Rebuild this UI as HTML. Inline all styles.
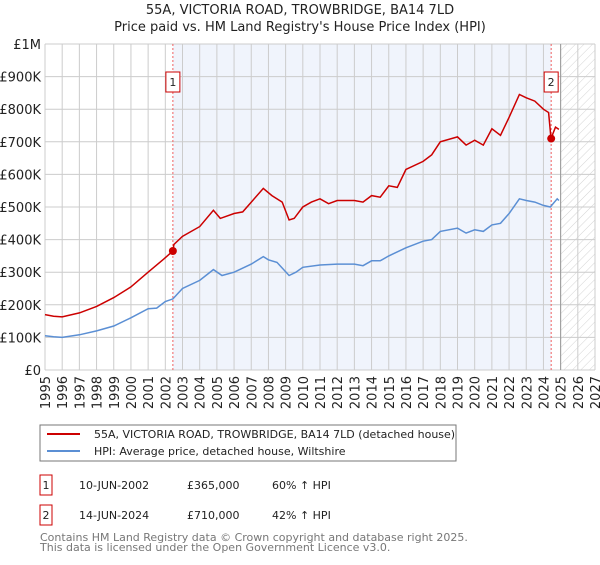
<!DOCTYPE html>
<html><head><meta charset="utf-8"><style>
body{margin:0;background:#fff;font-family:"Liberation Sans","DejaVu Sans",sans-serif;}
svg text{font-family:"DejaVu Sans","Liberation Sans",sans-serif;}
</style></head><body>
<svg id="chart" width="600" height="560" xmlns="http://www.w3.org/2000/svg">
<defs>
<pattern id="hatch" width="6" height="6" patternUnits="userSpaceOnUse" patternTransform="rotate(45)">
<line x1="0" y1="0" x2="0" y2="6" stroke="#d4d4d4" stroke-width="1"/></pattern>
</defs>
<text x="300" y="14" text-anchor="middle" font-size="13" fill="#222">55A, VICTORIA ROAD, TROWBRIDGE, BA14 7LD</text>
<text x="300" y="31" text-anchor="middle" font-size="13" fill="#222">Price paid vs. HM Land Registry's House Price Index (HPI)</text>
<g id="grid"></g>
<g id="marks"></g>
<g id="legend">
<rect x="40" y="425" width="416" height="36" fill="#fff" stroke="#777"/>
<line x1="47" y1="434" x2="80" y2="434" stroke="#cc0000" stroke-width="2"/>
<text x="94" y="438" font-size="11" fill="#222">55A, VICTORIA ROAD, TROWBRIDGE, BA14 7LD (detached house)</text>
<line x1="47" y1="451" x2="80" y2="451" stroke="#5b8fd4" stroke-width="2"/>
<text x="94" y="455" font-size="11" fill="#222">HPI: Average price, detached house, Wiltshire</text>
</g>
<g font-size="11" fill="#222">
<rect x="40" y="475" width="12" height="20" fill="#fff" stroke="#cc0000"/>
<text x="46" y="489" text-anchor="middle">1</text>
<text x="79" y="489">10-JUN-2002</text><text x="187" y="489">£365,000</text><text x="272" y="489">60% ↑ HPI</text>
<rect x="40" y="505" width="12" height="20" fill="#fff" stroke="#cc0000"/>
<text x="46" y="519" text-anchor="middle">2</text>
<text x="79" y="519">14-JUN-2024</text><text x="187" y="519">£710,000</text><text x="272" y="519">42% ↑ HPI</text>
</g>
<text x="40" y="541" font-size="11" fill="#777">Contains HM Land Registry data © Crown copyright and database right 2025.</text>
<text x="40" y="551" font-size="11" fill="#777">This data is licensed under the Open Government Licence v3.0.</text>
</svg>
<script>
const yTicks=[0,100,200,300,400,500,600,700,800,900,1000];
const yTickLabels=["£0","£100K","£200K","£300K","£400K","£500K","£600K","£700K","£800K","£900K","£1M"];
const years=[1995,1996,1997,1998,1999,2000,2001,2002,2003,2004,2005,2006,2007,2008,2009,2010,2011,2012,2013,2014,2015,2016,2017,2018,2019,2020,2021,2022,2023,2024,2025,2026,2027];
const hpiT=[1995,1995.5,1996,1997,1998,1999,2000,2001,2001.5,2002,2002.44,2003,2004,2004.8,2005.3,2006,2007,2007.7,2008,2008.5,2009.2,2009.6,2010,2011,2012,2013,2013.5,2014,2014.5,2015,2016,2017,2017.5,2018,2019,2019.5,2020,2020.5,2021,2021.5,2022,2022.6,2023,2023.5,2024,2024.4,2024.8,2024.9];
const hpiV=[105,102,100,108,120,135,160,188,190,210,218,250,275,308,290,300,325,348,338,330,290,300,315,322,325,325,320,335,335,350,375,395,400,425,435,420,430,425,445,450,480,525,520,515,505,500,525,520];
const ppT=[1995,1995.5,1996,1997,1998,1999,2000,2001,2001.9,2002.44,2002.5,2003,2004,2004.8,2005.2,2006,2006.5,2007,2007.7,2008.2,2008.8,2009.2,2009.5,2010,2010.5,2011,2011.5,2012,2013,2013.5,2014,2014.5,2015,2015.5,2016,2017,2017.5,2018,2019,2019.5,2020,2020.5,2021,2021.5,2022,2022.6,2023,2023.5,2024,2024.3,2024.44,2024.7,2024.9];
const ppV=[170,165,163,175,195,222,255,300,340,365,385,410,440,490,465,480,485,515,557,535,515,460,465,500,515,525,510,520,520,515,535,530,565,560,615,640,660,700,715,690,705,690,740,720,775,845,835,825,800,790,710,745,738];
const saleT=[2002.44,2024.45];
const saleV=[365,710];
const saleLabels=["1","2"];
const x0=45,x1=595,y0=370,y1=44;
const X=t=>x0+(t-1995)*(x1-x0)/32;
const Y=v=>y0-v*(y0-y1)/1000;
const NS="http://www.w3.org/2000/svg";
function mk(tag,attrs,parent){const e=document.createElementNS(NS,tag);for(const k in attrs)e.setAttribute(k,attrs[k]);parent.appendChild(e);return e;}
const g=document.getElementById('grid'),m=document.getElementById('marks');
let r=mk('rect',{x:X(saleT[0]),y:y1,width:X(saleT[1])-X(saleT[0]),height:y0-y1,fill:'#f0f4fc'},g);


r=mk('rect',{x:X(2025),y:y1,width:x1-X(2025),height:y0-y1,fill:'url(#hatch)'},g);


years.forEach(yr=>{
  mk('line',{x1:X(yr),x2:X(yr),y1:y1,y2:y0,stroke:'#ccc'},g);
  const t=mk('text',{transform:`translate(${X(yr)+5},${y0+6}) rotate(-90)`,'text-anchor':'end','font-size':'13',fill:'#222'},g);
  t.textContent=yr;
  
  
});
yTicks.forEach((v,i)=>{
  mk('line',{x1:x0,x2:x1,y1:Y(v),y2:Y(v),stroke:'#ccc'},g);
  const t=mk('text',{x:x0-4,y:Y(v)+5,'text-anchor':'end','font-size':'13',fill:'#222'},g);
  t.textContent=yTickLabels[i];
  
  
});
mk('line',{x1:X(2025),x2:X(2025),y1:y1,y2:y0,stroke:'#999'},g);
saleT.forEach((t,i)=>{
  const l=mk('line',{x1:X(t),x2:X(t),y1:y1,y2:y0,stroke:'#f06060','stroke-dasharray':'2,2'},m);
  
  
  const b=mk('rect',{x:X(t)-7,y:72,width:14,height:20,fill:'#fff',stroke:'#cc0000'},m);
  
  
  const tx=mk('text',{x:X(t),y:86,'text-anchor':'middle','font-size':'11',fill:'#222'},m);
  tx.textContent=saleLabels[i];
});
const pts=(T,V)=>T.map((t,i)=>X(t).toFixed(1)+','+Y(V[i]).toFixed(1)).join(' ');
let p=mk('polyline',{points:pts(hpiT,hpiV),fill:'none',stroke:'#5b8fd4','stroke-width':1.5},m);


p=mk('polyline',{points:pts(ppT,ppV),fill:'none',stroke:'#cc0000','stroke-width':1.5},m);


saleT.forEach((t,i)=>{
  const c=mk('circle',{cx:X(t),cy:Y(saleV[i]),r:4,fill:'#cc0000'},m);
  
  
});
</script>
</body></html>
